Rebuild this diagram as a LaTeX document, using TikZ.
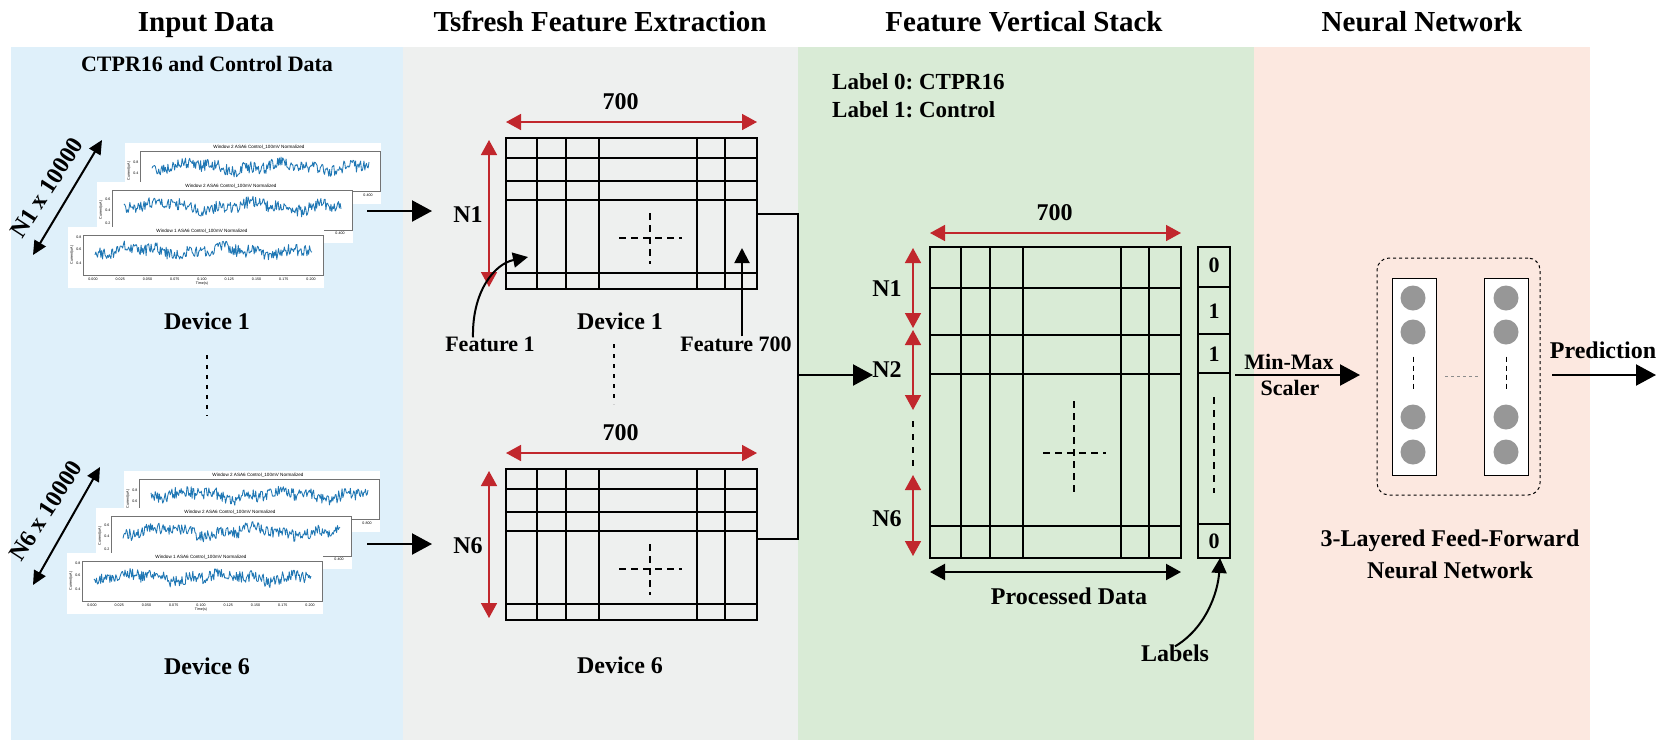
\documentclass[tikz,border=0pt]{standalone}
\usepackage{fontspec}
\setmainfont{Liberation Serif}
\newfontfamily\plotfont{Liberation Sans}
\usetikzlibrary{arrows.meta,calc}
\frenchspacing
\definecolor{bgblue}{HTML}{DFF0FA}
\definecolor{bggray}{HTML}{EEF0EF}
\definecolor{bggreen}{HTML}{D9EBD6}
\definecolor{bgpink}{HTML}{FCE8E0}
\definecolor{dimred}{HTML}{C1272D}
\definecolor{plotblue}{HTML}{1F77B4}
\definecolor{neuron}{HTML}{979797}
\newcommand{\sigcard}[6]{%
 \begin{scope}[shift={(#1,#2)}]
  \fill[white] (0,0) rectangle (256,61);
  \draw[black!55, line width=0.5pt] (15,8) rectangle (255,48);
  \node[tinytxt] at (134,4) {Window #3 ASA6 Control\_100mV Normalized};
  \pgfmathsetseed{#4}
  \draw[plotblue, line width=0.85pt, line join=round] plot[domain=27:244, samples=260] (\x,{24+6*rand+3*sin(\x*4)+2*sin(\x*11)});
  \foreach \yy/\lab in {#5} \node[ticklab, anchor=east] at (14,\yy) {\lab};
  \node[ticklab, rotate=90] at (4,28) {Current(uA)};
  #6
 \end{scope}}
\begin{document}
\begin{tikzpicture}[x=1pt,y=-1pt,
  ttl/.style={font=\bfseries\fontsize{29}{34}\selectfont, inner sep=0pt},
  txt/.style={font=\bfseries\fontsize{24}{28}\selectfont, inner sep=0pt},
  stxt/.style={font=\bfseries\fontsize{22}{26}\selectfont, inner sep=0pt},
  tinytxt/.style={font=\plotfont\fontsize{4.6}{5}\selectfont, inner sep=0pt},
  ticklab/.style={font=\plotfont\fontsize{3.6}{4}\selectfont, inner sep=0.3pt},
  matbox/.style={draw, line width=2.2pt, inner sep=0pt, outer sep=0pt},
  gridline/.style={line width=2.2pt},
  dimarrow/.style={dimred, line width=1.6pt, {Triangle[length=15pt,width=16pt]}-{Triangle[length=15pt,width=16pt]}},
  blackdim/.style={line width=2.2pt, {Triangle[length=15pt,width=16pt]}-{Triangle[length=15pt,width=16pt]}},
  flow/.style={line width=2.2pt, -{Triangle[length=20pt,width=21pt]}},
  pointer/.style={line width=2pt, -{Triangle[length=15pt,width=15pt]}},
  sepdots/.style={line width=2.6pt, dash pattern=on 4pt off 6pt},
  crossdash/.style={line width=1.6pt, dash pattern=on 7pt off 5pt},
  neu/.style={circle, fill=neuron, minimum size=25pt, inner sep=0pt},
  layer/.style={draw, fill=white, line width=0.9pt, minimum width=44pt, minimum height=197pt, inner sep=0pt, outer sep=0pt}]
\useasboundingbox (0,0) rectangle (1671,740);
\fill[white] (0,0) rectangle (1671,740);
% panels
\fill[bgblue] (11,47) rectangle (403,740);
\fill[bggray] (403,47) rectangle (798,740);
\fill[bggreen] (798,47) rectangle (1254,740);
\fill[bgpink] (1254,47) rectangle (1590,740);
% titles
\node[ttl, anchor=base] (t1) at (206,31) {Input Data};
\node[ttl, anchor=base] (t2) at (600,31) {Tsfresh Feature Extraction};
\node[ttl, anchor=base] (t3) at (1024,31) {Feature Vertical Stack};
\node[ttl, anchor=base] (t4) at (1422,31) {Neural Network};
\node[stxt, anchor=base] (sub) at (207,71) {CTPR16 and Control Data};

% ---------- input data cards ----------
\sigcard{125}{143}{2}{11}{19/0.8,30/0.4}{\node[ticklab] at (243,52) {0.400};}
\sigcard{97}{182}{2}{23}{17/0.6,28/0.4,41/0.2}{\node[ticklab] at (243,51) {0.400};}
\sigcard{68}{227}{1}{37}{10/0.8,22/0.6,36/0.4}{%
  \foreach \lab [count=\i from 0] in {0.000,0.025,0.050,0.075,0.100,0.125,0.150,0.175,0.200}
    \node[ticklab] at ({25+27.25*\i},52) {\lab};
  \node[ticklab] at (134,57) {Time(s)};}
\sigcard{124}{471}{2}{51}{19/0.8,30/0.6}{\node[ticklab] at (243,52) {0.800};}
\sigcard{96}{508}{2}{63}{17/0.6,28/0.4,41/0.2}{\node[ticklab] at (243,51) {0.400};}
\sigcard{67}{553}{1}{79}{10/0.8,22/0.6,36/0.4}{%
  \foreach \lab [count=\i from 0] in {0.000,0.025,0.050,0.075,0.100,0.125,0.150,0.175,0.200}
    \node[ticklab] at ({25+27.25*\i},52) {\lab};
  \node[ticklab] at (134,57) {Time(s)};}

% diagonal size arrows
\coordinate (d1a) at (33,255); \coordinate (d1b) at (102,140);
\draw[line width=2pt, {Triangle[length=14pt,width=13pt]}-{Triangle[length=14pt,width=13pt]}] (d1a) -- (d1b);
\node[txt, rotate=57] (n1lab) at (47,188) {N1 x 10000};
\coordinate (d6a) at (33,585); \coordinate (d6b) at (100,467);
\draw[line width=2pt, {Triangle[length=14pt,width=13pt]}-{Triangle[length=14pt,width=13pt]}] (d6a) -- (d6b);
\node[txt, rotate=57] (n6lab) at (46,511) {N6 x 10000};

\node[txt] (dev1) at (207,321) {Device 1};
\node[txt] (dev6) at (207,666) {Device 6};
\draw[sepdots] (dev1.south |- 0,355) -- (dev1.south |- 0,416);

% ---------- feature extraction ----------
\foreach \m/\yy/\dl in {m1/138/1, m6/469/6} {
  \node[matbox, minimum width=251pt, minimum height=151pt, anchor=north west] (\m) at (506,\yy) {};
  \foreach \v in {31,60,93,191,219}
    \draw[gridline] ($(\m.north west)+(\v,0)$) -- ($(\m.south west)+(\v,0)$);
  \foreach \h in {20,43,62,135}
    \draw[gridline] ($(\m.north west)+(0,\h)$) -- ($(\m.north east)+(0,\h)$);
  \draw[crossdash] ($(\m.north west)+(113,100)$) -- ($(\m.north west)+(176,100)$);
  \draw[crossdash] ($(\m.north west)+(144,75)$) -- ($(\m.north west)+(144,126)$);
  \draw[dimarrow] ([yshift=16pt]\m.north west) -- ([yshift=16pt]\m.north east);
  \node[txt] (\m-w) at ($(\m.north)+(-11,-36)$) {700};
  \draw[dimarrow] ([xshift=-17pt,yshift=-2pt]\m.north west) -- ([xshift=-17pt,yshift=2pt]\m.south west);
  \node[txt] (\m-n) at ($(\m.west)+(-38,1)$) {N\dl};
}
\node[txt] (fdev1) at (620,321) {Device 1};
\node[txt] (fdev6) at (620,665) {Device 6};
\draw[sepdots] (614,344) -- (614,404);
\node[stxt] (f1) at (490,344) {Feature 1};
\node[stxt] (f700) at (736,344) {Feature 700};
\coordinate (f1tip) at (528,257);
\draw[pointer] ([xshift=-17pt,yshift=-1pt]f1.north) .. controls (472,292) and (494,264) .. (f1tip);
\coordinate (f700tip) at (742,248);
\draw[pointer] (f700.north -| f700tip) -- (f700tip);

% input arrows
\coordinate (c1out) at (367,211); \coordinate (c1in) at (432,211);
\draw[flow] (c1out) -- (c1in);
\coordinate (c6out) at (367,544); \coordinate (c6in) at (432,544);
\draw[flow] (c6out) -- (c6in);

% merge
\coordinate (bus) at (798,375);
\coordinate (stackin) at (873,375);
\draw[line width=2pt] (m1.east) -| (bus);
\draw[line width=2pt] ([yshift=6pt]m6.east) -| (bus);
\draw[flow] (bus) -- (stackin);

% ---------- feature vertical stack ----------
\node[stxt, anchor=base west, font=\bfseries\fontsize{23}{26}\selectfont] (lab0) at (832,89) {Label 0: CTPR16};
\node[stxt, anchor=base west, font=\bfseries\fontsize{23}{26}\selectfont] (lab1) at (832,117) {Label 1: Control};

\node[matbox, minimum width=251pt, minimum height=311pt, anchor=north west] (mb) at (930,247) {};
\foreach \v in {31,60,93,191,219}
  \draw[gridline] ($(mb.north west)+(\v,0)$) -- ($(mb.south west)+(\v,0)$);
\foreach \h in {41,88,127,279}
  \draw[gridline] ($(mb.north west)+(0,\h)$) -- ($(mb.north east)+(0,\h)$);
\draw[crossdash] ($(mb.north west)+(113,206)$) -- ($(mb.north west)+(176,206)$);
\draw[crossdash] ($(mb.north west)+(144,154)$) -- ($(mb.north west)+(144,248)$);
\draw[dimarrow] ([yshift=14pt]mb.north west) -- ([yshift=14pt]mb.north east);
\node[txt] (mbw) at ($(mb.north)+(-1,-34)$) {700};
\draw[dimarrow] (913,248) -- (913,328);
\draw[dimarrow] (913,330) -- (913,410);
\draw[dimarrow] (913,475) -- (913,556);
\draw[sepdots, line width=2.2pt, dash pattern=on 6pt off 7pt] (913,421) -- (913,472);
\node[txt] (sn1) at (887,289) {N1};
\node[txt] (sn2) at (887,370) {N2};
\node[txt] (sn6) at (887,519) {N6};
\draw[blackdim] ([yshift=-14pt]mb.south west) -- ([yshift=-14pt]mb.south east);
\node[txt] (pd) at (1069,596) {Processed Data};

\node[matbox, minimum width=32pt, minimum height=311pt, anchor=north west] (lab) at (1198,247) {};
\foreach \h in {40,87,126,277}
  \draw[gridline] ($(lab.north west)+(0,\h)$) -- ($(lab.north east)+(0,\h)$);
\node[stxt] (l0) at (1214,265) {0};
\node[stxt] (l1) at (1214,311) {1};
\node[stxt] (l2) at (1214,354) {1};
\node[stxt] (l3) at (1214,541) {0};
\draw[line width=1.6pt, dash pattern=on 7pt off 6pt] (1214,397) -- (1214,493);
\node[txt] (labels) at (1175,653) {Labels};
\draw[pointer] ([yshift=-2pt]labels.north) .. controls (1206,628) and (1218,592) .. ([xshift=6pt]lab.south);

% ---------- neural network ----------
\coordinate (mmstart) at (1235,375); \coordinate (nnin) at (1360,375);
\draw[flow] (mmstart) -- (nnin);
\node[stxt] (mm1) at (1289,362) {Min-Max};
\node[stxt] (mm2) at (1290,388) {Scaler};
\node[draw, dashed, line width=1pt, rounded corners=12pt, minimum width=163pt, minimum height=237pt, inner sep=0pt] (nnbox) at (1458.5,376.5) {};
\node[layer] (col1) at (1414,376.5) {};
\node[layer] (col2) at (1506.5,376.5) {};
\foreach \c/\xx in {a/1413,b/1506} {
  \node[neu] (\c1) at (\xx,298) {};
  \node[neu] (\c2) at (\xx,332) {};
  \node[neu] (\c3) at (\xx,417) {};
  \node[neu] (\c4) at (\xx,452) {};
  \draw[line width=1pt, dash pattern=on 5pt off 4pt] (\c2.south) ++(0,12) -- ++(0,35);
}
\draw[black!45, line width=0.8pt, dash pattern=on 3pt off 3pt] ([xshift=9pt]col1.east) -- ([xshift=-6pt]col2.west);
\node[txt] (pred) at (1603,350) {Prediction};
\coordinate (pout) at (1552,375); \coordinate (pend) at (1656,375);
\draw[flow] (pout) -- (pend);
\node[txt] (nn1) at (1450,541) {3-Layered Feed-Forward};
\node[txt] (nn2) at (1450,570) {Neural Network};
\end{tikzpicture}
\end{document}
